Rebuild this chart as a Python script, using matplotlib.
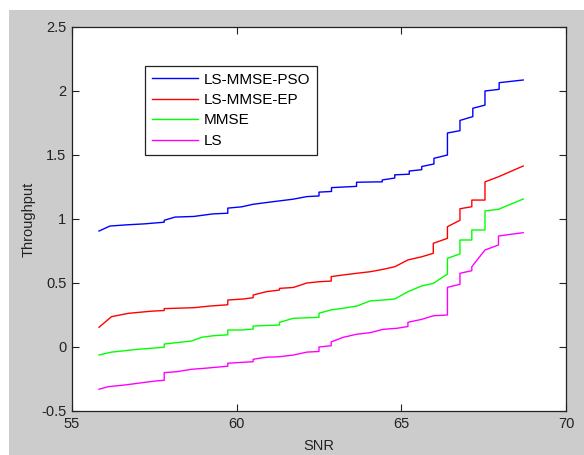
import matplotlib
matplotlib.use("Agg")
import matplotlib.pyplot as plt
from matplotlib.patches import Rectangle

plt.rcParams['font.family'] = ['Liberation Sans', 'DejaVu Sans']

labels = ['LS-MMSE-PSO', 'LS-MMSE-EP', 'MMSE', 'LS']
colors = ['#0000ff', '#ff0000', '#00ff00', '#ff00ff']

pso_x = [55.82, 56.15, 56.7, 57.2, 57.8, 57.8, 58.13, 58.7, 59.28, 59.73, 59.73, 60.15, 60.5, 61.1,
         61.72, 62.13, 62.5, 62.5, 62.88, 62.88, 63.64, 63.64, 64.25, 64.42, 64.42, 64.8, 64.8,
         65.24, 65.24, 65.62, 65.62, 65.99, 65.99, 66.4, 66.4, 66.78, 66.78, 67.17, 67.17, 67.54,
         67.54, 67.97, 67.97, 68.7]
pso_y = [0.906, 0.945, 0.955, 0.962, 0.975, 0.99, 1.015, 1.02, 1.04, 1.045, 1.085, 1.095, 1.115,
         1.135, 1.155, 1.175, 1.18, 1.21, 1.215, 1.245, 1.255, 1.287, 1.29, 1.29, 1.305, 1.32,
         1.345, 1.35, 1.375, 1.385, 1.41, 1.43, 1.474, 1.50, 1.672, 1.69, 1.77, 1.80, 1.865, 1.89,
         2.0, 2.013, 2.065, 2.086]

ep_x = [55.82, 56.2, 56.71, 57.42, 57.8, 57.8, 58.7, 59.19, 59.73, 59.73, 60.2, 60.5, 60.5, 60.9,
        61.3, 61.3, 61.72, 62.13, 62.5, 62.87, 62.87, 63.24, 63.65, 64.05, 64.45, 64.8, 65.2,
        65.62, 65.97, 65.97, 66.4, 66.4, 66.78, 66.78, 67.14, 67.14, 67.54, 67.54, 67.95, 68.7]
ep_y = [0.154, 0.237, 0.263, 0.28, 0.285, 0.30, 0.307, 0.32, 0.33, 0.367, 0.375, 0.385, 0.406,
        0.432, 0.445, 0.458, 0.465, 0.50, 0.51, 0.515, 0.55, 0.563, 0.576, 0.588, 0.607, 0.627,
        0.68, 0.705, 0.732, 0.81, 0.849, 0.94, 0.99, 1.08, 1.096, 1.148, 1.148, 1.29, 1.33, 1.414]

mmse_x = [55.82, 56.2, 57.0, 57.8, 57.8, 58.18, 58.63, 58.94, 59.29, 59.73, 59.73, 60.15, 60.5,
          60.5, 60.9, 61.3, 61.3, 61.72, 62.5, 62.5, 62.87, 63.24, 63.65, 64.05, 64.45, 64.8,
          65.2, 65.62, 65.97, 66.4, 66.4, 66.78, 66.78, 67.14, 67.14, 67.54, 67.54, 67.95, 68.7]
mmse_y = [-0.0625, -0.04, -0.018, -0.002, 0.023, 0.034, 0.047, 0.076, 0.088, 0.095, 0.133, 0.133,
          0.14, 0.164, 0.168, 0.172, 0.193, 0.224, 0.232, 0.264, 0.29, 0.303, 0.32, 0.36, 0.367,
          0.375, 0.432, 0.477, 0.497, 0.57, 0.693, 0.727, 0.836, 0.836, 0.914, 0.914, 1.063,
          1.076, 1.156]

ls_x = [55.82, 56.1, 56.6, 57.1, 57.52, 57.8, 57.8, 58.18, 58.63, 59.04, 59.73, 59.73, 60.15,
        60.5, 60.5, 60.9, 61.3, 61.72, 62.13, 62.5, 62.5, 62.87, 62.87, 63.24, 63.65, 64.05,
        64.45, 64.86, 65.2, 65.2, 65.62, 65.97, 66.4, 66.4, 66.78, 66.78, 67.14, 67.14, 67.54,
        67.95, 67.95, 68.4, 68.7]
ls_y = [-0.33, -0.31, -0.297, -0.28, -0.266, -0.26, -0.20, -0.193, -0.174, -0.166, -0.15, -0.127,
        -0.12, -0.115, -0.096, -0.08, -0.076, -0.063, -0.04, -0.035, 0.0, 0.01, 0.04, 0.076,
        0.10, 0.112, 0.138, 0.146, 0.16, 0.193, 0.216, 0.244, 0.25, 0.466, 0.49, 0.576, 0.596,
        0.627, 0.758, 0.797, 0.867, 0.883, 0.893]

xticks = [55, 60, 65, 70]
yticks = [-0.5, 0, 0.5, 1, 1.5, 2, 2.5]

W, H = 584, 455
fig = plt.figure(figsize=(W / 100, H / 100), dpi=100, facecolor='white')
fig.patches.append(Rectangle((9 / W, 0), 1 - 9 / W, 1 - 10 / H, transform=fig.transFigure,
                             facecolor='#cccccc', edgecolor='none', zorder=-10))

ax = fig.add_axes([72 / W, (H - 411) / H, (566 - 72) / W, (411 - 27) / H])
series = [(pso_x, pso_y), (ep_x, ep_y), (mmse_x, mmse_y), (ls_x, ls_y)]
for (xs, ys), c, lab in zip(series, colors, labels):
    ax.plot(xs, ys, color=c, lw=1.0, label=lab)

ax.set_xlim(55, 70)
ax.set_ylim(-0.5, 2.5)
ax.set_xticks(xticks)
ax.set_yticks(yticks)
ax.set_xticklabels([str(v) for v in xticks])
ax.set_yticklabels(['-0.5', '0', '0.5', '1', '1.5', '2', '2.5'])
ax.tick_params(direction='in', length=5, width=0.8, top=True, right=True,
               labelsize=10.5, colors='#222222', pad=4)
for s in ax.spines.values():
    s.set_linewidth(0.9)
    s.set_color('#222222')

ax.set_xlabel('SNR', fontsize=10.5, color='#222222', labelpad=6)
ax.set_ylabel('Throughput', fontsize=10.5, color='#222222', labelpad=4)

leg = ax.legend(loc='upper left', bbox_to_anchor=(0.148, 0.899), borderaxespad=0,
                fancybox=False, edgecolor='#222222', framealpha=1, fontsize=11,
                handlelength=3.0, labelspacing=0.42, borderpad=0.45, handletextpad=0.4)
leg.get_frame().set_linewidth(0.9)

fig.savefig('out.png', dpi=100, facecolor=fig.get_facecolor())
